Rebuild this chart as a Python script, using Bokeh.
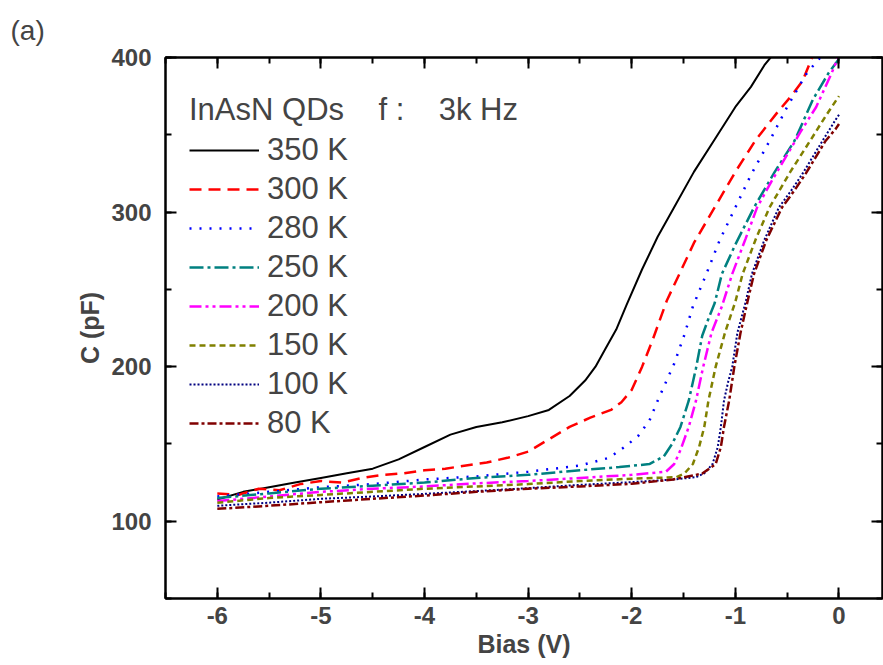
from bokeh.plotting import figure
from bokeh.models import (Range1d, LinearAxis, SingleIntervalTicker, Legend,
                          LegendItem, CustomJSTickFormatter)
from bokeh.embed import file_html
from bokeh.resources import INLINE

# ---------------- data ----------------
labels = ["350 K", "300 K", "280 K", "250 K", "200 K", "150 K", "100 K", "80 K"]

v_350 = [-6.0, -5.75, -5.5, -5.25, -5.0, -4.75, -4.5, -4.25, -4.0, -3.75, -3.5, -3.25, -3.0,
         -2.8, -2.6, -2.45, -2.35, -2.25, -2.15, -2.05, -1.9, -1.75, -1.6, -1.4, -1.2, -1.0,
         -0.85, -0.72, -0.66]
c_350 = [114, 119, 122, 125, 128, 131, 134, 140, 148, 156, 161, 164, 168,
         172, 181, 191, 200, 212, 224, 240, 263, 284, 302, 326, 347, 368,
         381, 395, 400]

v_300 = [-6.0, -5.8, -5.6, -5.4, -5.2, -5.0, -4.8, -4.6, -4.4, -4.2, -4.0, -3.8, -3.6, -3.4,
         -3.2, -3.0, -2.8, -2.6, -2.4, -2.2, -2.1, -2.0, -1.9, -1.8, -1.66, -1.54, -1.4, -1.2,
         -1.0, -0.8, -0.6, -0.45, -0.35, -0.26]
c_300 = [118, 117, 121, 120, 124, 126, 125, 128, 130, 131, 133, 134, 136, 138,
         141, 145, 153, 161, 167, 172, 177, 185, 200, 217, 243, 260, 280, 303,
         326, 347, 364, 376, 385, 400]

v_280 = [-6.0, -5.5, -5.0, -4.5, -4.0, -3.5, -3.0, -2.75, -2.5, -2.22, -2.07, -1.94, -1.83,
         -1.75, -1.67, -1.59, -1.49, -1.41, -1.28, -1.15, -1.0, -0.85, -0.67, -0.5, -0.31, -0.18]
c_280 = [116, 119, 122, 124, 127, 129, 132, 134, 136, 141, 148, 155, 165,
         178, 190, 202, 221, 239, 260, 282, 303, 324, 346, 368, 390, 400]

v_250 = [-6.0, -5.5, -5.0, -4.5, -4.0, -3.5, -3.0, -2.5, -2.12, -1.83, -1.69, -1.61, -1.53,
         -1.45, -1.38, -1.32, -1.26, -1.2, -1.13, -1.0, -0.82, -0.62, -0.43, -0.25, -0.1, 0.0]
c_250 = [115, 118, 121, 123, 125, 128, 130, 133, 135, 137, 142, 150, 161,
         178, 199, 220, 231, 241, 260, 279, 303, 326, 346, 373, 390, 399]

v_200 = [-6.0, -5.5, -5.0, -4.5, -4.0, -3.5, -3.0, -2.5, -2.0, -1.67, -1.59, -1.53, -1.45,
         -1.38, -1.31, -1.23, -1.13, -1.03, -0.9, -0.79, -0.65, -0.51, -0.37, -0.22, -0.07, -0.01]
c_200 = [113, 116, 119, 121, 122.5, 124.5, 126, 128, 130, 132, 137, 146, 161,
         178, 200, 222, 239, 260, 283, 303, 320, 336, 352, 368, 390, 400]

v_150 = [-6.0, -5.5, -5.0, -4.5, -4.0, -3.5, -3.0, -2.5, -2.0, -1.57, -1.49, -1.41, -1.35,
         -1.3, -1.26, -1.19, -1.1, -1.0, -0.93, -0.8, -0.67, -0.47, -0.27, -0.12, 0.0]
c_150 = [112, 115, 117, 119, 121, 122.5, 124, 126, 127.5, 128.5, 131, 137, 148,
         161, 178, 200, 222, 242, 260, 283, 303, 326, 347, 363, 375]

v_100 = [-6.0, -5.5, -5.0, -4.5, -4.0, -3.5, -3.0, -2.5, -2.0, -1.6, -1.38, -1.3, -1.22,
         -1.17, -1.14, -1.11, -1.07, -1.03, -0.98, -0.9, -0.84, -0.72, -0.58, -0.46, -0.35,
         -0.16, -0.03, 0.0]
c_100 = [110, 112, 114.5, 116, 117.7, 119.5, 121.4, 123.5, 125.3, 127, 128.5, 131, 137,
         148, 161, 178, 190, 200, 222, 242, 260, 282, 303, 314, 325,
         346, 360, 363]

v_80 = [-6.0, -5.5, -5.0, -4.5, -4.0, -3.5, -3.0, -2.5, -2.0, -1.6, -1.32, -1.19, -1.14,
        -1.11, -1.06, -1.01, -0.95, -0.88, -0.82, -0.7, -0.55, -0.43, -0.32, -0.13, -0.03, 0.0]
c_80 = [108, 110, 112.3, 114.5, 116.6, 119, 121, 122.5, 124.2, 127, 130.8, 137, 148,
        161, 178, 200, 222, 243, 260, 282, 303, 314, 325, 346, 354, 357]

x_ticks = [-6, -5, -4, -3, -2, -1, 0]
x_tick_labels = ["-6", "-5", "-4", "-3", "-2", "-1", "0"]
y_ticks = [100, 200, 300, 400]
y_tick_labels = ["100", "200", "300", "400"]

series_v = [v_350, v_300, v_280, v_250, v_200, v_150, v_100, v_80]
series_c = [c_350, c_300, c_280, c_250, c_200, c_150, c_100, c_80]

# ---------------- styles ----------------
colors = ["#000000", "#FF0000", "#0000FF", "#008080", "#FF00FF", "#808000", "#000080", "#800000"]
dashes = ["solid", "12 7", "2 8", "14 4 3 4", "12 4 3 4 3 4", "6 4", "2 2", "9 3 3 3"]
widths = [2, 2.5, 2.5, 2.5, 2.5, 2.5, 2, 2.5]

FONT = "Liberation Sans"

p = figure(width=883, height=660,
           x_range=Range1d(-6.5, 0.42), y_range=Range1d(50, 400),
           output_backend="svg", toolbar_location=None,
           min_border_left=165, min_border_right=1,
           min_border_top=57, min_border_bottom=62)
p.background_fill_color = "white"
p.border_fill_color = "white"
p.grid.visible = False
p.outline_line_color = "black"
p.outline_line_width = 2

p.title.text = "(a)"
p.title.align = "left"
p.title.offset = -155
p.title.text_font = FONT
p.title.text_font_size = "28px"
p.title.text_font_style = "normal"
p.title.standoff = 24

renderers = []
for v, c, col, d, w in zip(series_v, series_c, colors, dashes, widths):
    r = p.line(v, c, line_color=col, line_dash=d, line_width=w)
    renderers.append(r)

# main axes
xa = p.xaxis[0]
xa.ticker = SingleIntervalTicker(interval=1, num_minor_ticks=2)
xa.major_label_overrides = {t: s for t, s in zip(x_ticks, x_tick_labels)}
ya = p.yaxis[0]
ya.ticker = SingleIntervalTicker(interval=100, num_minor_ticks=2)
ya.major_label_overrides = {t: s for t, s in zip(y_ticks, y_tick_labels)}

for ax in (xa, ya):
    ax.axis_line_width = 2
    ax.major_tick_line_width = 2
    ax.minor_tick_line_width = 2
    ax.major_tick_in = 11
    ax.major_tick_out = 0
    ax.minor_tick_in = 6
    ax.minor_tick_out = 0
    ax.major_label_text_font = FONT
    ax.major_label_text_font_style = "bold"
    ax.major_label_text_font_size = "24px"
    ax.axis_label_text_font = FONT
    ax.axis_label_text_font_style = "bold"
    ax.axis_label_text_font_size = "25px"

xa.axis_label = "Bias (V)"
xa.major_label_standoff = 8
xa.axis_label_standoff = 3
ya.axis_label = "C (pF)"
ya.major_label_standoff = 14
ya.axis_label_standoff = 4

# mirrored axes (ticks only, no labels)
blank = CustomJSTickFormatter(code="return ''")
top = LinearAxis(ticker=SingleIntervalTicker(interval=1, num_minor_ticks=2), formatter=blank)
right = LinearAxis(ticker=SingleIntervalTicker(interval=100, num_minor_ticks=2), formatter=blank)
for ax in (top, right):
    ax.axis_line_width = 2
    ax.major_tick_line_width = 2
    ax.minor_tick_line_width = 2
    ax.major_tick_in = 11
    ax.major_tick_out = 0
    ax.minor_tick_in = 6
    ax.minor_tick_out = 0
    ax.major_label_text_font_size = "1px"
    ax.major_label_standoff = 0
    ax.axis_label_standoff = 0
p.add_layout(top, "above")
p.add_layout(right, "right")

items = [LegendItem(label=lab, renderers=[r]) for lab, r in zip(labels, renderers)]
legend = Legend(items=items, location=(24, 157),
                title="InAsN QDs\u00a0\u00a0\u00a0 f :\u00a0\u00a0\u00a0 3k Hz",
                title_text_font=FONT, title_text_font_size="31px",
                title_text_font_style="normal", title_standoff=4,
                label_text_font=FONT, label_text_font_size="31px",
                glyph_width=70, glyph_height=30, label_height=30,
                label_standoff=8, spacing=3, padding=0, margin=0,
                border_line_alpha=0, background_fill_alpha=0)
p.add_layout(legend)

open("out.html", "w").write(file_html(p, INLINE))
